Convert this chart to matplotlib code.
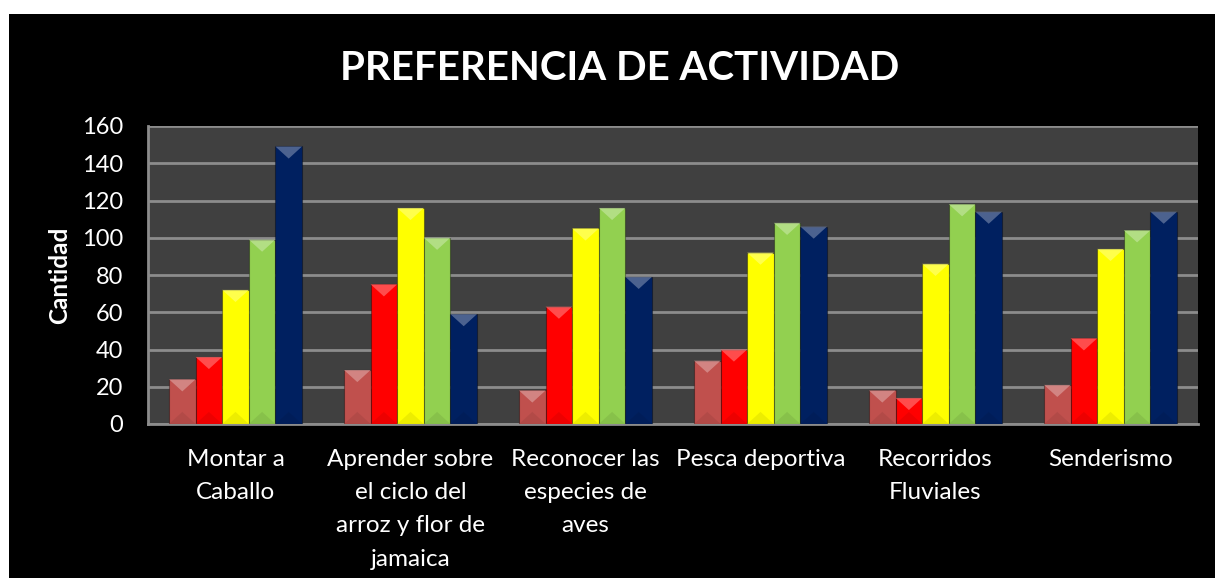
import numpy as np
import matplotlib.pyplot as plt
from matplotlib.patches import Polygon, Rectangle
import matplotlib.colors as mcolors

categories = ['Montar a\nCaballo',
              'Aprender sobre\nel ciclo del\narroz y flor de\njamaica',
              'Reconocer las\nespecies de\naves',
              'Pesca deportiva',
              'Recorridos\nFluviales',
              'Senderismo']

serie_1 = [24, 29, 18, 34, 18, 21]
serie_2 = [36, 75, 63, 40, 14, 46]
serie_3 = [72, 116, 105, 92, 86, 94]
serie_4 = [99, 100, 116, 108, 118, 104]
serie_5 = [149, 59, 79, 106, 114, 114]

series = [serie_1, serie_2, serie_3, serie_4, serie_5]
colors = ['#C0504D', '#FF0000', '#FFFF00', '#92D050', '#002060']

plt.rcParams['font.family'] = ['Lato', 'DejaVu Sans']

fig = plt.figure(figsize=(12.15, 5.78), dpi=100, facecolor='white')
fig.patches.append(Rectangle((9 / 1215, 0), 1, (578 - 14) / 578,
                             transform=fig.transFigure, facecolor='black',
                             edgecolor='none', zorder=-10))
ax = fig.add_axes([148 / 1215, (578 - 424) / 578, 1050 / 1215, 298 / 578])
ax.set_facecolor('#404040')

x = np.arange(len(categories))
w = 0.152
bevel = 6.5  # depth of the top/bottom bevel, data units

for i, (vals, c) in enumerate(zip(series, colors)):
    pos = x + (i - 2) * w
    bars = ax.bar(pos, vals, width=w, color=c, edgecolor=mcolors.to_rgba('black', 0.35),
                  linewidth=0.8, zorder=3)
    light = tuple(np.array(mcolors.to_rgb(c)) * 0.6 + 0.4)
    dark = tuple(np.array(mcolors.to_rgb(c)) * 0.8)
    for b in bars:
        x0 = b.get_x()
        x1 = x0 + b.get_width()
        xc = (x0 + x1) / 2
        h = b.get_height()
        d = min(bevel, h / 2)
        ax.add_patch(Polygon([(x0, h), (x1, h), (xc, h - d)], closed=True,
                             facecolor=light, edgecolor='none', alpha=0.75, zorder=4))
        ax.add_patch(Polygon([(x0, 0), (x1, 0), (xc, d)], closed=True,
                             facecolor=dark, edgecolor='none', alpha=0.35, zorder=4))

ax.set_xlim(-0.5, len(categories) - 0.5)
ax.set_ylim(0, 160)
ax.set_yticks(range(0, 161, 20))
ax.yaxis.grid(True, color='#8C8C8C', linewidth=2, zorder=1)
ax.set_axisbelow(True)

ax.set_xticks(x)
ax.set_xticklabels(categories, color='white', fontsize=17.5, linespacing=1.72,
                   va='top')
ax.tick_params(axis='x', length=0, pad=18)
ax.tick_params(axis='y', length=0, colors='white', labelsize=17, pad=18)

for s in ['top', 'right']:
    ax.spines[s].set_visible(False)
for s in ['left', 'bottom']:
    ax.spines[s].set_color('#8C8C8C')
    ax.spines[s].set_linewidth(2)

ax.set_ylabel('Cantidad', color='white', fontsize=17.5, fontweight='bold', labelpad=8)

fig.text(620 / 1215, 1 - 68 / 578, 'PREFERENCIA DE ACTIVIDAD', color='white',
         fontsize=29, fontweight='bold', ha='center', va='center')

plt.savefig('out.png', dpi=100, facecolor='white')
